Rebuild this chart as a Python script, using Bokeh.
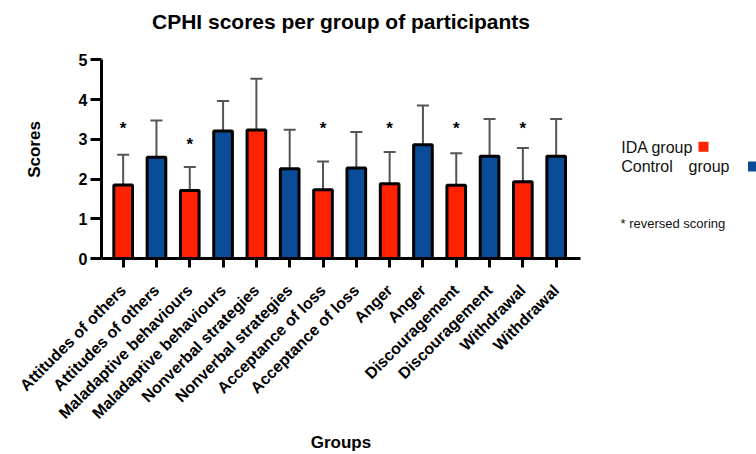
import math
from bokeh.plotting import figure
from bokeh.layouts import row
from bokeh.models import ColumnDataSource, Range1d, Whisker, TeeHead, FixedTicker
from bokeh.core.properties import value
from bokeh.embed import file_html
from bokeh.resources import INLINE

categories = ["Attitudes of others", "Attitudes of others",
              "Maladaptive behaviours", "Maladaptive behaviours",
              "Nonverbal strategies", "Nonverbal strategies",
              "Acceptance of loss", "Acceptance of loss",
              "Anger", "Anger",
              "Discouragement", "Discouragement",
              "Withdrawal", "Withdrawal"]
groups = ["IDA", "Control"] * 7
means = [1.85, 2.55, 1.71, 3.21, 3.23, 2.26, 1.73, 2.28, 1.88, 2.86, 1.84, 2.57, 1.93, 2.57]
upper = [2.61, 3.47, 2.30, 3.96, 4.52, 3.24, 2.44, 3.18, 2.68, 3.85, 2.65, 3.51, 2.78, 3.51]
reversed_scoring = [True, False, True, False, False, False, True, False, True, False, True, False, True, False]
star_level = [3.27, None, 2.86, None, None, None, 3.27, None, 3.27, None, 3.27, None, 3.27, None]
y_ticks = [0, 1, 2, 3, 4, 5]
legend_labels = ["IDA group", "Control", "group", "* reversed scoring"]

RED = "#FF2200"
BLUE = "#0A4C97"
FONT = "Liberation Sans"

xs = list(range(len(categories)))
colors = [RED if g == "IDA" else BLUE for g in groups]
src = ColumnDataSource(dict(x=xs, mean=means, upper=upper, color=colors))
sx = [x for x, r in zip(xs, reversed_scoring) if r]
sy = [s for s, r in zip(star_level, reversed_scoring) if r]
star_src = ColumnDataSource(dict(x=sx, y=sy, t=["*"] * len(sx)))

TOP, BOTTOM = 40, 196
p = figure(width=600, height=454, output_backend="svg", toolbar_location=None,
           x_range=Range1d(-0.65, 13.73), y_range=Range1d(0, 5.485),
           min_border_left=101, min_border_right=20, min_border_top=TOP, min_border_bottom=BOTTOM)
p.outline_line_color = None
p.xgrid.visible = False
p.ygrid.visible = False

p.title.text = "CPHI scores per group of participants"
p.title.align = "center"
p.title.text_font = FONT
p.title.text_font_size = "21px"
p.title.text_font_style = "bold"
p.title.text_color = "black"
p.title.standoff = 15

whisk = Whisker(base="x", lower="mean", upper="upper", source=src,
                line_color="#555555", line_width=2, lower_head=None,
                upper_head=TeeHead(size=12, line_color="#555555", line_width=2))
p.add_layout(whisk)

p.vbar(x="x", top="mean", bottom=0, width=0.56, fill_color="color",
       line_color="black", line_width=3, source=src)

p.text(x="x", y="y", text="t", source=star_src, text_align="center",
       text_baseline="middle", text_font=value(FONT), text_font_size="17px",
       text_font_style="bold", text_color="black")

for ax in (p.xaxis[0], p.yaxis[0]):
    ax.axis_line_width = 3
    ax.axis_line_color = "black"
    ax.major_tick_line_width = 3
    ax.major_tick_line_color = "black"
    ax.major_tick_in = 0
    ax.minor_tick_line_color = None
    ax.major_label_text_font = FONT
    ax.major_label_text_font_style = "bold"
    ax.major_label_text_color = "black"
    ax.axis_label_text_font = FONT
    ax.axis_label_text_font_style = "bold"
    ax.axis_label_text_font_size = "17px"
    ax.axis_label_text_color = "black"

p.xaxis.ticker = FixedTicker(ticks=xs)
p.xaxis.major_label_overrides = {i: c for i, c in zip(xs, categories)}
p.xaxis.major_label_orientation = math.pi / 4
p.xaxis.major_label_text_font_size = "16px"
p.xaxis.major_tick_out = 9
p.xaxis.major_label_standoff = 20
p.xaxis.axis_label = "Groups"
p.xaxis.axis_label_standoff = 2

p.yaxis.ticker = FixedTicker(ticks=y_ticks)
p.yaxis.bounds = (0, 5)
p.yaxis.major_label_text_font_size = "16px"
p.yaxis.major_tick_out = 11
p.yaxis.major_label_standoff = 3
p.yaxis.axis_label = "Scores"
p.yaxis.axis_label_standoff = 32

# legend panel; its frame is aligned with the chart frame, y in page pixels
q = figure(width=156, height=454, output_backend="svg", toolbar_location=None,
           x_range=Range1d(600, 756), y_range=Range1d(454 - BOTTOM, TOP),
           x_axis_location=None, y_axis_location=None,
           min_border=0, min_border_left=0, min_border_right=0,
           min_border_top=TOP, min_border_bottom=BOTTOM)
q.outline_line_color = None
q.xgrid.visible = False
q.ygrid.visible = False
q.background_fill_color = None
q.border_fill_color = None

q.text(x=[620.7, 620.7, 688], y=[147, 165.7, 165.7], text=legend_labels[:3],
       text_font=value(FONT), text_font_size="16px", text_color="#111111",
       text_baseline="middle", text_align="left")
q.text(x=[620], y=[222.7], text=legend_labels[3:],
       text_font=value(FONT), text_font_size="13px", text_color="#111111",
       text_baseline="middle", text_align="left")
q.scatter(x=[703, 752.5], y=[146.3, 166], marker="square", size=10,
          fill_color=[RED, BLUE], line_color=None)

layout = row(p, q, spacing=0)
open("out.html", "w").write(file_html(layout, INLINE))
